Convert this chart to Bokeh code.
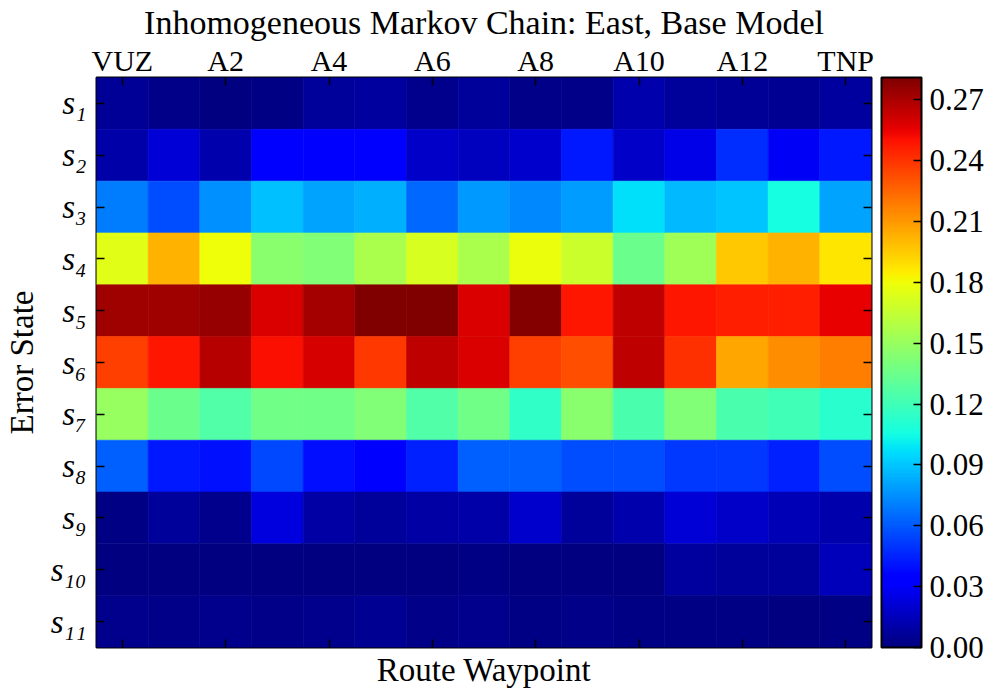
import numpy as np
from bokeh.plotting import figure
from bokeh.layouts import row
from bokeh.models import (LinearColorMapper, ColorBar, FixedTicker, LinearAxis,
                          Range1d, ColumnDataSource, PrintfTickFormatter)
from bokeh.transform import transform
from bokeh.embed import file_html
from bokeh.resources import INLINE

# Route waypoints (columns) and error states (rows)
waypoints = ["VUZ", "A1", "A2", "A3", "A4", "A5", "A6", "A7",
             "A8", "A9", "A10", "A11", "A12", "A13", "TNP"]
states = ["s1", "s2", "s3", "s4", "s5", "s6", "s7", "s8", "s9", "s10", "s11"]
state_labels = ["s\u2081", "s\u2082", "s\u2083", "s\u2084", "s\u2085", "s\u2086",
                "s\u2087", "s\u2088", "s\u2089", "s\u2081\u2080", "s\u2081\u2081"]

# State probabilities at each waypoint
p_s1 = [0.006, 0.003, 0.001, 0.002, 0.007, 0.008, 0.004, 0.007, 0.003, 0.003, 0.012, 0.007, 0.006, 0.005, 0.008]
p_s2 = [0.010, 0.021, 0.011, 0.033, 0.033, 0.033, 0.018, 0.016, 0.019, 0.042, 0.018, 0.026, 0.048, 0.029, 0.042]
p_s3 = [0.070, 0.056, 0.075, 0.088, 0.081, 0.0835, 0.064, 0.077, 0.0725, 0.079, 0.097, 0.086, 0.090, 0.106, 0.081]
p_s4 = [0.175, 0.203, 0.180, 0.145, 0.142, 0.156, 0.172, 0.156, 0.178, 0.167, 0.134, 0.153, 0.196, 0.203, 0.187]
p_s5 = [0.273, 0.273, 0.2755, 0.259, 0.272, 0.280, 0.281, 0.259, 0.279, 0.249, 0.2655, 0.249, 0.246, 0.246, 0.2557]
p_s6 = [0.2366, 0.249, 0.267, 0.251, 0.2594, 0.239, 0.2655, 0.259, 0.2366, 0.232, 0.2655, 0.241, 0.206, 0.213, 0.218]
p_s7 = [0.150, 0.134, 0.126, 0.1366, 0.1366, 0.142, 0.126, 0.1366, 0.115, 0.145, 0.123, 0.142, 0.123, 0.120, 0.112]
p_s8 = [0.062, 0.042, 0.040, 0.055, 0.039, 0.033, 0.044, 0.062, 0.062, 0.056, 0.056, 0.0505, 0.0505, 0.044, 0.056]
p_s9 = [0.002, 0.007, 0.004, 0.0235, 0.0098, 0.007, 0.0098, 0.010, 0.019, 0.007, 0.012, 0.021, 0.0176, 0.014, 0.012]
p_s10 = [0.001, 0.001, 0.001, 0.001, 0.0005, 0.001, 0.001, 0.002, 0.0005, 0.0, 0.0, 0.008, 0.007, 0.007, 0.015]
p_s11 = [0.004, 0.003, 0.004, 0.003, 0.004, 0.005, 0.003, 0.004, 0.002, 0.003, 0.002, 0.002, 0.002, 0.001, 0.002]

rows = [p_s1, p_s2, p_s3, p_s4, p_s5, p_s6, p_s7, p_s8, p_s9, p_s10, p_s11]

cb_ticks = [0.00, 0.03, 0.06, 0.09, 0.12, 0.15, 0.18, 0.21, 0.24, 0.27]


def jet_palette(n=256):
    t = np.linspace(0.0, 1.0, n)
    r = np.interp(t, [0, 0.35, 0.66, 0.89, 1], [0, 0, 1, 1, 0.5])
    g = np.interp(t, [0, 0.125, 0.375, 0.64, 0.91, 1], [0, 0, 1, 1, 0, 0])
    b = np.interp(t, [0, 0.11, 0.34, 0.65, 1], [0.5, 1, 1, 0, 0])
    return ["#%02x%02x%02x" % (int(round(ri * 255)), int(round(gi * 255)), int(round(bi * 255)))
            for ri, gi, bi in zip(r, g, b)]


xs, ys, vs = [], [], []
for i, row_vals in enumerate(rows):
    for j, v in enumerate(row_vals):
        xs.append(j)
        ys.append(i + 1)
        vs.append(v)
src = ColumnDataSource(dict(x=xs, y=ys, v=vs))

mapper = LinearColorMapper(palette=jet_palette(), low=min(vs), high=max(vs))

SERIF = "Liberation Serif"
TOP, BOTTOM = 77, 47

p = figure(width=880, height=694,
           x_range=Range1d(-0.5, len(waypoints) - 0.5),
           y_range=Range1d(len(states) + 0.5, 0.5),
           x_axis_location="above",
           output_backend="svg", toolbar_location=None,
           min_border_left=95, min_border_right=9,
           min_border_top=TOP, min_border_bottom=BOTTOM,
           title="Inhomogeneous Markov Chain: East, Base Model")

p.rect(x="x", y="y", width=1, height=1, source=src,
       fill_color=transform("v", mapper),
       line_color=transform("v", mapper), line_width=0.6)

p.grid.visible = False
p.outline_line_color = "black"
p.outline_line_width = 2
p.background_fill_color = "white"
p.border_fill_color = "white"

p.title.align = "center"
p.title.text_font = SERIF
p.title.text_font_style = "normal"
p.title.text_font_size = "34px"
p.title.text_color = "black"
p.title.standoff = 0
p.title.offset = 0

x_ticks = list(range(0, len(waypoints), 2))
x_over = {k: waypoints[k] for k in x_ticks}
y_ticks = list(range(1, len(states) + 1))
y_over = {k: state_labels[k - 1] for k in y_ticks}


def style_axis(ax):
    ax.axis_line_color = None
    ax.major_tick_in = 8
    ax.major_tick_out = 0
    ax.minor_tick_in = 0
    ax.minor_tick_out = 0
    ax.major_tick_line_color = "black"
    ax.major_tick_line_width = 1.5
    ax.major_label_text_font = SERIF
    ax.major_label_text_color = "black"
    ax.axis_label_text_font = SERIF
    ax.axis_label_text_font_style = "normal"
    ax.axis_label_text_color = "black"
    ax.axis_label_text_font_size = "33px"


# top axis with waypoint labels
top = p.xaxis[0]
top.ticker = FixedTicker(ticks=x_ticks)
top.major_label_overrides = x_over
style_axis(top)
top.major_label_text_font_size = "30px"
top.major_label_standoff = 1

# bottom axis: ticks and title only
bottom = LinearAxis(ticker=FixedTicker(ticks=x_ticks), axis_label="Route Waypoint")
style_axis(bottom)
bottom.major_label_text_color = None
bottom.major_label_text_font_size = "1px"
bottom.major_label_standoff = 0
bottom.axis_label_standoff = 4
p.add_layout(bottom, "below")

# left axis with state labels
left = p.yaxis[0]
left.ticker = FixedTicker(ticks=y_ticks)
left.major_label_overrides = y_over
left.axis_label = "Error State"
style_axis(left)
left.major_label_text_font_size = "33px"
left.major_label_text_font_style = "italic"
left.major_label_standoff = 10
left.axis_label_standoff = 8

# right axis: ticks only
right = LinearAxis(ticker=FixedTicker(ticks=y_ticks))
style_axis(right)
right.major_label_text_color = None
right.major_label_text_font_size = "1px"
p.add_layout(right, "right")

# colour bar, in its own narrow panel to the right of the heat map
cb = figure(width=115, height=694, x_range=Range1d(0, 1), y_range=Range1d(0, 1),
            x_axis_location=None, y_axis_location=None,
            output_backend="svg", toolbar_location=None,
            min_border_left=0, min_border_right=114,
            min_border_top=TOP, min_border_bottom=BOTTOM)
cb.grid.visible = False
cb.outline_line_color = None
cb.background_fill_color = "white"
cb.border_fill_color = "white"

cbar = ColorBar(color_mapper=mapper,
                ticker=FixedTicker(ticks=cb_ticks),
                formatter=PrintfTickFormatter(format="%.2f"),
                width=40, padding=0, margin=0,
                major_tick_in=8, major_tick_out=0,
                major_tick_line_color="black", major_tick_line_width=1.5,
                minor_tick_line_color=None,
                bar_line_color="black", bar_line_width=2,
                major_label_text_font=SERIF,
                major_label_text_font_size="31px",
                major_label_text_color="black",
                label_standoff=8,
                border_line_color=None,
                background_fill_color=None)
cb.add_layout(cbar, "right")

layout = row(p, cb)
open("out.html", "w").write(file_html(layout, INLINE))
